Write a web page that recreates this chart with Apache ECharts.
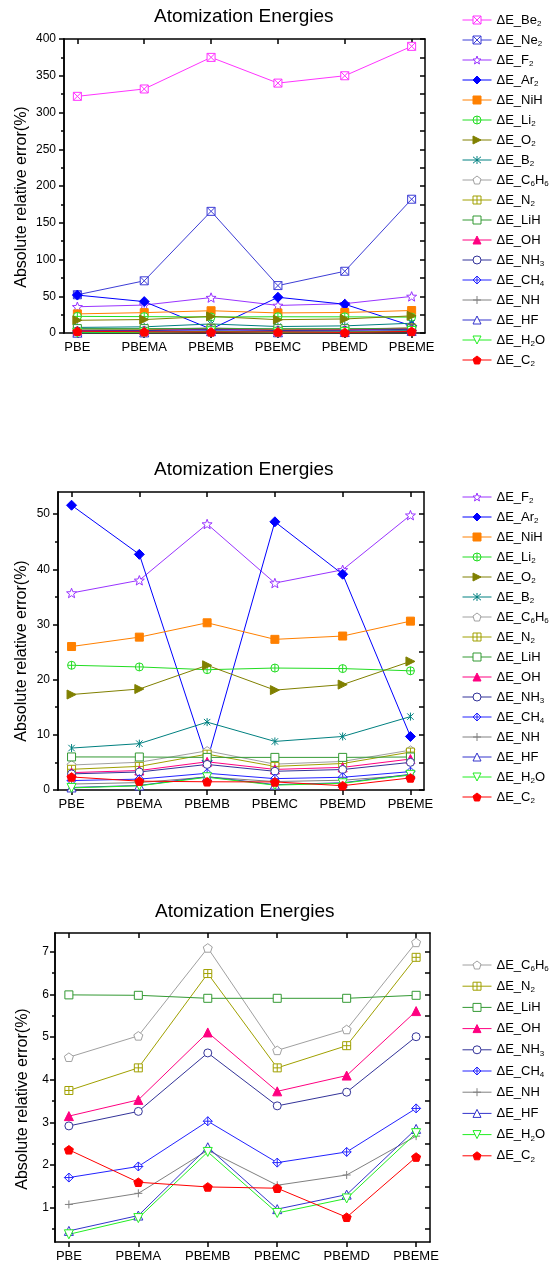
<!DOCTYPE html>
<html><head><meta charset="utf-8">
<script src="https://cdn.jsdelivr.net/npm/echarts@6/dist/echarts.min.js"></script>
<style>html,body{margin:0;padding:0;background:#fff}#c{width:550px;height:1268px}</style>
</head><body><div id="c"></div>
<script>
// ---------- data ----------
const categories = ['PBE','PBEMA','PBEMB','PBEMC','PBEMD','PBEME'];
const be2  = [322, 332, 375, 340, 350, 390];
const ne2  = [52, 71, 165.5, 64.5, 84, 182];
const f2   = [35.7, 38.0, 48.2, 37.5, 39.9, 49.8];
const ar2  = [51.6, 42.7, 5.3, 48.6, 39.1, 9.7];
const nih  = [26.0, 27.7, 30.3, 27.3, 27.9, 30.6];
const li2  = [22.6, 22.3, 21.8, 22.1, 22.0, 21.6];
const o2   = [17.3, 18.3, 22.6, 18.1, 19.1, 23.3];
const b2   = [7.6, 8.4, 12.3, 8.8, 9.7, 13.3];
const c6h6 = [4.53, 5.03, 7.09, 4.69, 5.18, 7.22];
const n2   = [3.75, 4.28, 6.49, 4.28, 4.80, 6.87];
const lih  = [5.99, 5.98, 5.91, 5.91, 5.91, 5.98];
const oh   = [3.15, 3.53, 5.11, 3.73, 4.10, 5.61];
const nh3  = [2.92, 3.26, 4.63, 3.39, 3.71, 5.01];
const ch4  = [1.71, 1.97, 3.03, 2.06, 2.31, 3.33];
const nh   = [1.08, 1.34, 2.35, 1.53, 1.77, 2.68];
const hf   = [0.46, 0.82, 2.42, 0.97, 1.31, 2.85];
const h2o  = [0.38, 0.76, 2.31, 0.88, 1.22, 2.75];
const c2   = [2.36, 1.60, 1.49, 1.46, 0.78, 2.19];

const titleText = 'Atomization Energies';
const yName = 'Absolute relative error(%)';

// tick labels
const xTickValues = [0, 1, 2, 3, 4, 5];
const yTicks1 = [0, 50, 100, 150, 200, 250, 300, 350, 400];
const yMinor1 = [25, 75, 125, 175, 225, 275, 325, 375];
const yTicks2 = [0, 10, 20, 30, 40, 50];
const yMinor2 = [5, 15, 25, 35, 45];
const yTicks3 = [1, 2, 3, 4, 5, 6, 7];
const yMinor3 = [0.5, 1.5, 2.5, 3.5, 4.5, 5.5, 6.5];

const names1 = ['ΔE_Be2','ΔE_Ne2','ΔE_F2','ΔE_Ar2','ΔE_NiH','ΔE_Li2','ΔE_O2','ΔE_B2','ΔE_C6H6','ΔE_N2','ΔE_LiH','ΔE_OH','ΔE_NH3','ΔE_CH4','ΔE_NH','ΔE_HF','ΔE_H2O','ΔE_C2'];
const names2 = names1.slice(2);
const names3 = names1.slice(8);

// ---------- styles ----------
function polyPath(n, rOut, rIn) {
  let p = '';
  const k = rIn ? n * 2 : n;
  for (let i = 0; i < k; i++) {
    const r = rIn ? (i % 2 ? rIn : rOut) : rOut;
    const a = -Math.PI / 2 + i * 2 * Math.PI / k;
    p += (i ? 'L' : 'M') + (5 + r * Math.cos(a)).toFixed(2) + ',' + (5 + r * Math.sin(a)).toFixed(2);
  }
  return 'path://' + p + 'Z';
}
const SYM = {
  sqX: 'path://M0,0L10,0L10,10L0,10ZM0,0L10,10M10,0L0,10',
  sqPlus: 'path://M0,0L10,0L10,10L0,10ZM5,0L5,10M0,5L10,5',
  sq: 'path://M0,0L10,0L10,10L0,10Z',
  circPlus: 'path://M10,5A5,5,0,1,1,0,5A5,5,0,1,1,10,5ZM5,0L5,10M0,5L10,5',
  circ: 'circle',
  diam: 'diamond',
  diamPlus: 'path://M5,0L10,5L5,10L0,5ZM5,0L5,10M0,5L10,5',
  star: polyPath(5, 5, 2.1),
  pent: polyPath(5, 5),
  triUp: 'triangle',
  triDown: 'path://M0,0L10,0L5,10Z',
  triRight: 'path://M0,0L10,5L0,10Z',
  aster: 'path://M1,1L9,9M9,1L1,9M5,0L5,10',
  plus: 'path://M5,0L5,10M0,5L10,5'
};
const META = {
  'ΔE_Be2':  {d: be2,  c: '#ff33ff', s: 'sqX', f: false, z: 8},
  'ΔE_Ne2':  {d: ne2,  c: '#3d3dd6', s: 'sqX', f: false, z: 8},
  'ΔE_F2':   {d: f2,   c: '#9933ff', s: 'star', f: false, z: 10},
  'ΔE_Ar2':  {d: ar2,  c: '#0000ff', s: 'diam', f: true, z: 10},
  'ΔE_NiH':  {d: nih,  c: '#ff8000', s: 'sq', f: true, z: 8},
  'ΔE_Li2':  {d: li2,  c: '#22dd22', s: 'circPlus', f: false, z: 8},
  'ΔE_O2':   {d: o2,   c: '#808000', s: 'triRight', f: true, z: 9},
  'ΔE_B2':   {d: b2,   c: '#008080', s: 'aster', f: false, z: 8},
  'ΔE_C6H6': {d: c6h6, c: '#a0a0a0', s: 'pent', f: false, z: 9},
  'ΔE_N2':   {d: n2,   c: '#a0a000', s: 'sqPlus', f: false, z: 8},
  'ΔE_LiH':  {d: lih,  c: '#339933', s: 'sq', f: false, z: 8},
  'ΔE_OH':   {d: oh,   c: '#ff0080', s: 'triUp', f: true, z: 9},
  'ΔE_NH3':  {d: nh3,  c: '#333399', s: 'circ', f: false, z: 8},
  'ΔE_CH4':  {d: ch4,  c: '#2222ff', s: 'diamPlus', f: false, z: 9},
  'ΔE_NH':   {d: nh,   c: '#808080', s: 'plus', f: false, z: 8},
  'ΔE_HF':   {d: hf,   c: '#3333cc', s: 'triUp', f: false, z: 9},
  'ΔE_H2O':  {d: h2o,  c: '#22ee22', s: 'triDown', f: false, z: 9},
  'ΔE_C2':   {d: c2,   c: '#ff0000', s: 'pent', f: true, z: 9}
};

const FONT = '"Liberation Sans", Arial, Helvetica, sans-serif';
const panels = [
  {names: names1, grid: {left: 64, top: 39, width: 361, height: 294}, min: 0, max: 400, ticks: yTicks1, minor: yMinor1, lblMargin: 8,
   title: {left: 154, top: 7}, yname: {x: 22, y: 197}, legend: {left: 462, top: 12, itemGap: 4}},
  {names: names2, grid: {left: 58, top: 492, width: 366, height: 298}, min: 0, max: 54, ticks: yTicks2, minor: yMinor2, lblMargin: 8,
   title: {left: 154, top: 460}, yname: {x: 22, y: 651}, legend: {left: 462, top: 489, itemGap: 4}},
  {names: names3, grid: {left: 55, top: 933, width: 375, height: 309}, min: 0.2, max: 7.44, ticks: yTicks3, minor: yMinor3, lblMargin: 6,
   title: {left: 155, top: 902}, yname: {x: 23, y: 1099}, legend: {left: 462, top: 957, itemGap: 5.2}}
];

const AX = {color: '#000', width: 1.5};
const grid = [], xAxis = [], yAxis = [], series = [], title = [], legend = [], graphic = [];
panels.forEach((p, g) => {
  grid.push(Object.assign({containLabel: false}, p.grid));
  const xBase = {type: 'value', gridIndex: g, min: -0.2, max: 5.2, splitLine: {show: false},
    axisLine: {show: true, onZero: false, lineStyle: AX}};
  xAxis.push(Object.assign({}, xBase, {position: 'bottom',
    axisTick: {show: true, customValues: xTickValues, length: 5, inside: false, lineStyle: AX},
    axisLabel: {show: true, customValues: xTickValues, formatter: v => categories[Math.round(v)] || '',
      fontSize: 13, color: '#000', fontFamily: FONT, margin: 8}}));
  xAxis.push(Object.assign({}, xBase, {position: 'top',
    axisTick: {show: true, customValues: xTickValues, length: 5, inside: true, lineStyle: AX},
    axisLabel: {show: false}}));
  const yBase = {type: 'value', gridIndex: g, min: p.min, max: p.max, splitLine: {show: false},
    axisLine: {show: true, onZero: false, lineStyle: AX}};
  yAxis.push(Object.assign({}, yBase, {position: 'left',
    axisTick: {show: true, customValues: p.ticks, length: 5, inside: false, lineStyle: AX},
    axisLabel: {show: true, customValues: p.ticks, fontSize: 12, color: '#000', fontFamily: FONT, margin: p.lblMargin}}));
  yAxis.push(Object.assign({}, yBase, {position: 'left',
    axisTick: {show: true, customValues: p.minor, length: 3, inside: false, lineStyle: AX},
    axisLabel: {show: false}}));
  yAxis.push(Object.assign({}, yBase, {position: 'right',
    axisTick: {show: true, customValues: p.ticks.concat(p.minor), length: 5, inside: true, lineStyle: AX},
    axisLabel: {show: false}}));

  p.names.forEach(n => {
    const m = META[n];
    series.push({
      name: n, type: 'line', xAxisIndex: 2 * g, yAxisIndex: 3 * g,
      data: categories.map((c, i) => [i, m.d[i]]),
      symbol: SYM[m.s], symbolSize: m.z, symbolKeepAspect: true,
      showAllSymbol: true, silent: true,
      lineStyle: {color: m.c, width: 1},
      itemStyle: {color: m.f ? m.c : '#fff', borderColor: m.c, borderWidth: 1},
      emphasis: {disabled: true}
    });
  });

  title.push({text: titleText, left: p.title.left, top: p.title.top, padding: 0,
    textStyle: {fontSize: 19, fontWeight: 'normal', color: '#000', fontFamily: FONT}});
  legend.push({
    data: p.names.map(n => {
      const m = META[n];
      return {name: n,
        itemStyle: {color: m.f ? m.c : '#fff', borderColor: m.c, borderWidth: 1},
        lineStyle: {color: m.c, width: 1}};
    }),
    orient: 'vertical', left: p.legend.left, top: p.legend.top,
    itemGap: p.legend.itemGap, itemWidth: 29, itemHeight: 10, padding: 0, selectedMode: false,
    formatter: nm => nm.replace(/(\d)/g, '{s|$1}'),
    textStyle: {fontSize: 13, color: '#000', fontFamily: FONT, lineHeight: 16,
      rich: {s: {fontSize: 8, fontFamily: FONT, color: '#000', verticalAlign: 'bottom', lineHeight: 6}}}});
  graphic.push({type: 'text', x: p.yname.x, y: p.yname.y, rotation: Math.PI / 2, silent: true,
    style: {text: yName, fontSize: 16, fontFamily: FONT, fill: '#000', align: 'center', verticalAlign: 'middle'}});
});

const chart = echarts.init(document.getElementById('c'), null, {renderer: 'canvas'});
chart.setOption({animation: false, backgroundColor: '#fff', title, legend, grid, xAxis, yAxis, series, graphic});
</script>
</body></html>
